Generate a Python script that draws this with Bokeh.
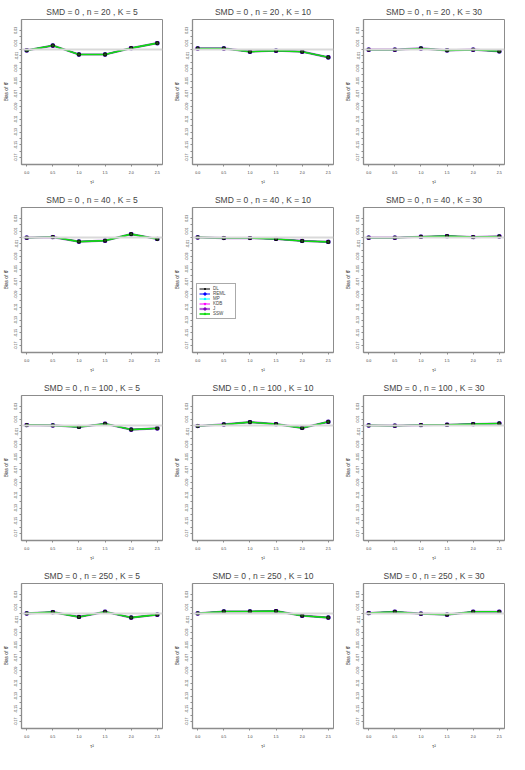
from bokeh.plotting import figure
from bokeh.models import Range1d, FixedTicker, NumeralTickFormatter, Legend, LegendItem, Span
from bokeh.layouts import gridplot
from bokeh.embed import file_html
from bokeh.resources import INLINE

# ---------------- data ----------------
tau2 = [0.0, 0.5, 1.0, 1.5, 2.0, 2.5]
n_values = [20, 40, 100, 250]
K_values = [5, 10, 30]
methods = ["DL", "REML", "MP", "KDB", "J", "SSW"]

# bias of theta-hat (all methods coincide at the resolution of the picture)
bias_n20_K5 = [-0.0015, 0.006, -0.008, -0.008, 0.002, 0.0098]
bias_n20_K10 = [0.0015, 0.0015, -0.0036, -0.002, -0.0036, -0.0125]
bias_n20_K30 = [-0.0005, -0.0005, 0.0015, -0.0015, -0.0005, -0.003]
bias_n40_K5 = [-0.0005, 0.0005, -0.0066, -0.0051, 0.0051, -0.0025]
bias_n40_K10 = [0.0, -0.001, -0.001, -0.0025, -0.0056, -0.0071]
bias_n40_K30 = [-0.0005, -0.0005, 0.001, 0.002, 0.0005, 0.0015]
bias_n100_K5 = [0.0005, 0.0, -0.0025, 0.0025, -0.0066, -0.0046]
bias_n100_K10 = [-0.001, 0.0015, 0.0051, 0.002, -0.004, 0.0056]
bias_n100_K30 = [0.0, -0.0005, 0.0005, 0.001, 0.002, 0.003]
bias_n250_K5 = [0.0, 0.002, -0.0056, 0.0025, -0.0066, -0.002]
bias_n250_K10 = [0.0, 0.003, 0.003, 0.0036, -0.0036, -0.0066]
bias_n250_K30 = [0.0005, 0.0025, -0.0005, -0.002, 0.0025, 0.0025]

bias = {
    (20, 5): bias_n20_K5, (20, 10): bias_n20_K10, (20, 30): bias_n20_K30,
    (40, 5): bias_n40_K5, (40, 10): bias_n40_K10, (40, 30): bias_n40_K30,
    (100, 5): bias_n100_K5, (100, 10): bias_n100_K10, (100, 30): bias_n100_K30,
    (250, 5): bias_n250_K5, (250, 10): bias_n250_K10, (250, 30): bias_n250_K30,
}

y_tick_labels = ["0.03", "0.01", "-0.01", "-0.03", "-0.05", "-0.07", "-0.09",
                 "-0.11", "-0.13", "-0.15", "-0.17"]
y_minor_labels = ["0.02", "0.00", "-0.02", "-0.04", "-0.06", "-0.08", "-0.10",
                  "-0.12", "-0.14", "-0.16"]

# ---------------- style ----------------
colors = {"DL": "#000000", "REML": "#0000ff", "MP": "#00ffff",
          "KDB": "#ff00ff", "J": "#8000c0", "SSW": "#10dd10"}
markers = {"DL": "cross", "REML": "square", "MP": "triangle",
           "KDB": "inverted_triangle", "J": "square", "SSW": "triangle"}
widths = {"DL": 1, "REML": 1, "MP": 1, "KDB": 1, "J": 2.2, "SSW": 1.6}
FONT = "Liberation Sans"
CELL_W, CELL_H = 171, 188
AX_COL = "#8c8c8c"

figs = []
for n in n_values:
    for K in K_values:
        p = figure(width=CELL_W, height=CELL_H, output_backend="svg",
                   toolbar_location=None,
                   x_range=Range1d(-0.1, 2.6), y_range=Range1d(-0.181, 0.047),
                   min_border_left=18, min_border_right=9,
                   min_border_top=19, min_border_bottom=24,
                   title=f"SMD = 0 , n = {n} , K = {K}")
        p.title.align = "center"
        p.title.text_font = FONT
        p.title.text_font_style = "normal"
        p.title.text_font_size = "8.5px"
        p.title.standoff = 5
        p.grid.visible = False
        p.outline_line_color = AX_COL
        p.outline_line_width = 1
        p.background_fill_color = "white"
        p.border_fill_color = "white"

        # x axis
        p.xaxis.ticker = FixedTicker(ticks=tau2)
        p.xaxis.formatter = NumeralTickFormatter(format="0.0")
        p.xaxis.axis_label = "τ²"
        # y axis
        p.yaxis.ticker = FixedTicker(ticks=[float(s) for s in y_tick_labels],
                                     minor_ticks=[float(s) for s in y_minor_labels])
        p.yaxis.formatter = NumeralTickFormatter(format="0.00")
        p.yaxis.axis_label = "Bias of θ̂"
        p.yaxis.major_label_orientation = "vertical"
        for ax in (p.xaxis, p.yaxis):
            ax.axis_line_color = AX_COL
            ax.axis_line_width = 1.3
            ax.major_tick_line_color = AX_COL
            ax.minor_tick_line_color = AX_COL
            ax.major_tick_out = 2
            ax.major_tick_in = 0
            ax.minor_tick_out = 2
            ax.minor_tick_in = 0
            ax.major_label_text_font = FONT
            ax.major_label_text_font_size = "3.6px"
            ax.major_label_text_color = "#333333"
            ax.major_label_standoff = 2
            ax.axis_label_text_font = FONT
            ax.axis_label_text_font_size = "4.8px"
            ax.axis_label_text_font_style = "normal"
            ax.axis_label_text_color = "#333333"
            ax.axis_label_standoff = 3
        p.yaxis.minor_tick_line_color = AX_COL
        p.xaxis.minor_tick_line_color = None
        p.xaxis.major_label_standoff = 4

        p.add_layout(Span(location=0, dimension="width", line_color="#d9d9d9",
                          line_width=2))

        vals = bias[(n, K)]
        items = []
        for m in methods:
            lr = p.line(tau2, vals, line_color=colors[m], line_width=widths[m],
                        line_alpha=0.6 if m == "J" else 1.0)
            mr = p.scatter(tau2, vals, marker=markers[m], size=3,
                           line_color=colors[m], fill_color=colors[m])
            items.append(LegendItem(label=m, renderers=[lr, mr]))
        p.scatter(tau2, vals, marker="circle", size=3.3, line_color="#000000",
                  fill_color="#1f4f1f", line_width=0.8)

        if (n, K) == (40, 10):
            leg = Legend(items=items, location=(4, 33))
            leg.label_text_font = FONT
            leg.label_text_font_size = "4.5px"
            leg.label_height = 5
            leg.glyph_height = 5
            leg.glyph_width = 11
            leg.spacing = 0
            leg.padding = 2
            leg.margin = 0
            leg.label_standoff = 3
            leg.border_line_color = "#555555"
            leg.border_line_width = 1
            leg.background_fill_color = "white"
            p.add_layout(leg, "center")
        figs.append(p)

grid = gridplot(figs, ncols=3, toolbar_location=None)

with open("out.html", "w") as f:
    f.write(file_html(grid, INLINE))
